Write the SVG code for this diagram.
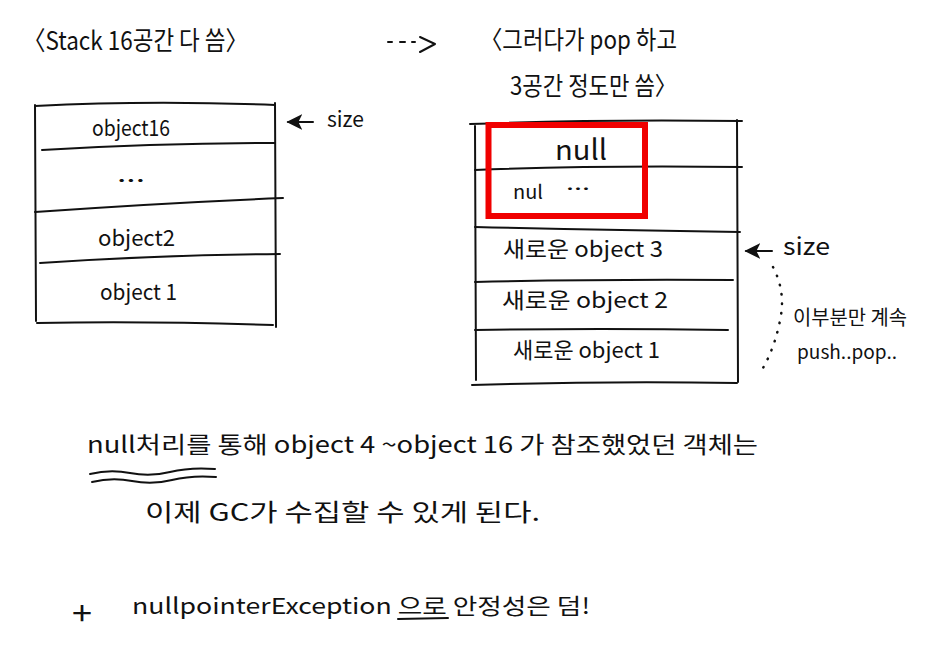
<svg xmlns="http://www.w3.org/2000/svg" width="943" height="657" viewBox="0 0 943 657">
<style>
  .t { font-family: "Noto Sans CJK KR", "Noto Sans", sans-serif; fill: #111; }
  .ln { fill: none; stroke: #111; stroke-width: 2; stroke-linecap: round; stroke-linejoin: round; }
  .hl { fill: none; stroke: #f00000; stroke-width: 6; }
  .dot { fill: none; stroke: #111; stroke-width: 2.5; stroke-linecap: round; stroke-dasharray: 0.5 9; }
</style>
<defs>
  <marker id="ah" viewBox="0 0 10 10" refX="9" refY="5" markerWidth="8" markerHeight="8" orient="auto">
    <path d="M0,0 L10,5 L0,10 L2.5,5 Z" fill="#111"/>
  </marker>
</defs>
<rect width="943" height="657" fill="#fff"/>

<g id="title-left">
  <text class="t" x="23" y="50" font-size="26" textLength="225" lengthAdjust="spacingAndGlyphs">〈Stack 16공간 다 씀〉</text>
</g>
<g id="title-right">
  <text class="t" x="480" y="49" font-size="25" textLength="197" lengthAdjust="spacingAndGlyphs">〈그러다가 pop 하고</text>
  <text class="t" x="510" y="95" font-size="25" textLength="167" lengthAdjust="spacingAndGlyphs">3공간 정도만 씀〉</text>
</g>

<g id="stack-left">
  <path class="ln" d="M35,106 Q150,100 275,105"/>
  <path class="ln" d="M35,105 L36,321"/>
  <path class="ln" d="M275,103 L276,327"/>
  <path class="ln" d="M42,150 Q160,143 275,143"/>
  <path class="ln" d="M35,212 Q160,203 283,198"/>
  <path class="ln" d="M40,263 Q160,255 280,254"/>
  <path class="ln" d="M37,323 Q150,321 273,325"/>
  <g id="row-object16"><text class="t" x="92" y="136" font-size="22" textLength="78" lengthAdjust="spacingAndGlyphs">object16</text></g>
  <g id="row-dots"><text class="t" x="117" y="182" font-size="22" textLength="28" lengthAdjust="spacingAndGlyphs">...</text></g>
  <g id="row-object2"><text class="t" x="98" y="246" font-size="22" textLength="77" lengthAdjust="spacingAndGlyphs">object2</text></g>
  <g id="row-object1"><text class="t" x="100" y="300" font-size="22" textLength="77" lengthAdjust="spacingAndGlyphs">object 1</text></g>
</g>

<g id="label-size-left">
  <text class="t" x="327" y="127" font-size="22" textLength="37" lengthAdjust="spacingAndGlyphs">size</text>
</g>

<g id="stack-right">
  <path class="ln" d="M470,124 Q600,119 742,121"/>
  <path class="ln" d="M475,126 L476,380"/>
  <path class="ln" d="M737,120 L738,382"/>
  <path class="ln" d="M475,170 Q600,165 742,167"/>
  <path class="ln" d="M475,227 Q600,230 740,232"/>
  <path class="ln" d="M475,282 Q600,279 733,280"/>
  <path class="ln" d="M475,330 Q600,328 728,330"/>
  <path class="ln" d="M472,385 Q600,381 737,383"/>
  <g id="row-null"><text class="t" x="555" y="160" font-size="28" textLength="52" lengthAdjust="spacingAndGlyphs">null</text></g>
  <g id="row-nul">
    <text class="t" x="513" y="199" font-size="19" textLength="30" lengthAdjust="spacingAndGlyphs">nul</text>
    <text class="t" x="566" y="190" font-size="19" textLength="24" lengthAdjust="spacingAndGlyphs">...</text>
  </g>
  <g id="row-new3"><text class="t" x="503" y="257" font-size="22" textLength="160" lengthAdjust="spacingAndGlyphs">새로운 object 3</text></g>
  <g id="row-new2"><text class="t" x="502" y="308" font-size="22" textLength="166" lengthAdjust="spacingAndGlyphs">새로운 object 2</text></g>
  <g id="row-new1"><text class="t" x="513" y="358" font-size="22" textLength="147" lengthAdjust="spacingAndGlyphs">새로운 object 1</text></g>
</g>

<g id="highlight">
  <rect class="hl" x="488.5" y="125" width="156.5" height="91"/>
</g>

<g id="label-size-right">
  <text class="t" x="783" y="255" font-size="24" textLength="47" lengthAdjust="spacingAndGlyphs">size</text>
</g>

<g id="note-repeat">
  <text class="t" x="793" y="325" font-size="20" textLength="114" lengthAdjust="spacingAndGlyphs">이부분만 계속</text>
  <text class="t" x="797" y="359" font-size="19" textLength="100" lengthAdjust="spacingAndGlyphs">push..pop..</text>
</g>

<g id="note-bottom">
  <text class="t" x="87" y="453" font-size="23" textLength="671" lengthAdjust="spacingAndGlyphs">null처리를 통해 object 4 ~object 16 가 참조했었던 객체는</text>
  <path class="ln" d="M90,474 Q110,469 130,473 T170,472 T215,469"/>
  <path class="ln" d="M92,482 Q112,477 132,481 T172,480 T216,477"/>
  <text class="t" x="145" y="521" font-size="24" textLength="395" lengthAdjust="spacingAndGlyphs">이제 GC가 수집할 수 있게 된다.</text>
  <text class="t" x="72" y="625" font-size="32" textLength="20" lengthAdjust="spacingAndGlyphs">+</text>
  <text class="t" x="132" y="614" font-size="22" textLength="458" lengthAdjust="spacingAndGlyphs">nullpointerException 으로 안정성은 덤!</text>
  <path class="ln" d="M398,619 L448,618"/>
</g>

<g id="connectors">
  <path class="ln" d="M388,42 L392,42 M400,42 L405,42 M412,42 L415,42"/>
  <path class="ln" d="M420,37 L435,44 L420,52"/>
  <path class="ln" d="M313,122 L288,122" marker-end="url(#ah)"/>
  <path class="ln" d="M772,251 L746,251" marker-end="url(#ah)"/>
  <path class="dot" d="M773,267 Q785,290 781,315 Q776,345 763,368"/>
</g>
</svg>
